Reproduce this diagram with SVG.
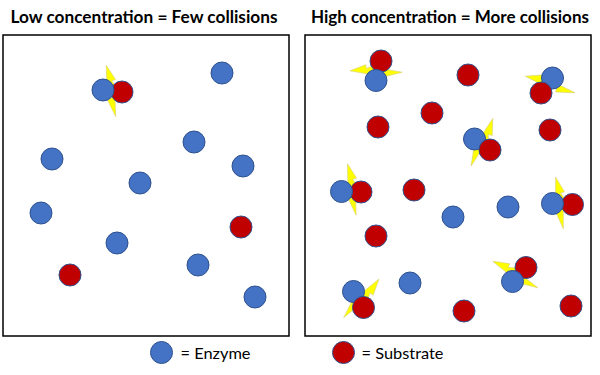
<svg xmlns="http://www.w3.org/2000/svg" xmlns:xlink="http://www.w3.org/1999/xlink" width="600" height="375" viewBox="0 0 600 375">
<style>
.enz{fill:#4472C4;stroke:#2F528F;stroke-width:1}
.sub{fill:#C00000;stroke:#2F528F;stroke-width:1}
.box{fill:#fff;stroke:#000;stroke-width:1.5}
.title{font-family:Lato,"Liberation Sans",sans-serif;font-weight:bold;font-size:16.5px;fill:#000}
.leg{font-family:Lato,"Liberation Sans",sans-serif;font-size:16px;fill:#000}
.bolt{fill:#FFFF00;stroke:#D8D070;stroke-width:0.6}
</style>
<defs>
<path id="bolt" class="bolt" d="M-2,-26 L6,-11 L2,-10 L9,1 L4,2 L3,26 L-4,8 L1,7 L-9,-6 L-3,-7 Z"/>
</defs>
<rect width="600" height="375" fill="#fff"/>
<text class="title" x="144" y="23" text-anchor="middle" textLength="267" lengthAdjust="spacingAndGlyphs">Low concentration = Few collisions</text>
<text class="title" x="450" y="23" text-anchor="middle" textLength="278" lengthAdjust="spacingAndGlyphs">High concentration = More collisions</text>
<rect class="box" x="3" y="35" width="286" height="301"/>
<rect class="box" x="305" y="35" width="286" height="301"/>

<g id="left-panel">
<g id="L-collision">
<use xlink:href="#bolt" transform="translate(110.5,91) rotate(-5)"/>
<circle class="sub" cx="122" cy="92" r="11"/>
<circle class="enz" cx="103" cy="90" r="11"/>
</g>
<g id="L-e1"><circle class="enz" cx="222" cy="73" r="11"/></g>
<g id="L-e2"><circle class="enz" cx="194" cy="142" r="11"/></g>
<g id="L-e3"><circle class="enz" cx="52" cy="159" r="11"/></g>
<g id="L-e4"><circle class="enz" cx="243" cy="166" r="11"/></g>
<g id="L-e5"><circle class="enz" cx="140" cy="183" r="11"/></g>
<g id="L-e6"><circle class="enz" cx="41" cy="213" r="11"/></g>
<g id="L-e7"><circle class="enz" cx="117" cy="243" r="11"/></g>
<g id="L-e8"><circle class="enz" cx="198" cy="265" r="11"/></g>
<g id="L-e9"><circle class="enz" cx="255" cy="297" r="11"/></g>
<g id="L-s1"><circle class="sub" cx="241" cy="227" r="11"/></g>
<g id="L-s2"><circle class="sub" cx="70" cy="275" r="11"/></g>
</g>

<g id="right-panel">
<g id="R-c1">
<use xlink:href="#bolt" transform="translate(376,72) rotate(-83)"/>
<circle class="sub" cx="381" cy="61" r="11"/>
<circle class="enz" cx="376" cy="80.5" r="11"/>
</g>
<g id="R-c2">
<use xlink:href="#bolt" transform="translate(550,85) rotate(-66)"/>
<circle class="enz" cx="552.5" cy="78" r="11"/>
<circle class="sub" cx="541" cy="93" r="11"/>
</g>
<g id="R-c3">
<use xlink:href="#bolt" transform="translate(481.5,142) rotate(30)"/>
<circle class="enz" cx="474.5" cy="139" r="11"/>
<circle class="sub" cx="490" cy="150" r="11"/>
</g>
<g id="R-c4">
<use xlink:href="#bolt" transform="translate(351.3,189.5) rotate(-4)"/>
<circle class="sub" cx="361" cy="192" r="11"/>
<circle class="enz" cx="341.5" cy="191.5" r="11"/>
</g>
<g id="R-c5">
<use xlink:href="#bolt" transform="translate(559,203) rotate(-3)"/>
<circle class="sub" cx="572.5" cy="204.5" r="11"/>
<circle class="enz" cx="552.5" cy="203.5" r="11"/>
</g>
<g id="R-c6">
<use xlink:href="#bolt" transform="translate(361,298) rotate(48)"/>
<circle class="enz" cx="353.5" cy="291.5" r="11"/>
<circle class="sub" cx="363.5" cy="307.5" r="11"/>
</g>
<g id="R-c7">
<use xlink:href="#bolt" transform="translate(515,275) rotate(-54)"/>
<circle class="sub" cx="526" cy="267.5" r="11"/>
<circle class="enz" cx="512.5" cy="281.5" r="11"/>
</g>
<g id="R-s1"><circle class="sub" cx="468" cy="75" r="11"/></g>
<g id="R-s2"><circle class="sub" cx="432" cy="113" r="11"/></g>
<g id="R-s3"><circle class="sub" cx="378" cy="127" r="11"/></g>
<g id="R-s4"><circle class="sub" cx="550" cy="130" r="11"/></g>
<g id="R-s5"><circle class="sub" cx="414" cy="190" r="11"/></g>
<g id="R-s6"><circle class="sub" cx="376" cy="236" r="11"/></g>
<g id="R-s7"><circle class="sub" cx="464" cy="311" r="11"/></g>
<g id="R-s8"><circle class="sub" cx="571" cy="306" r="11"/></g>
<g id="R-e1"><circle class="enz" cx="453" cy="217" r="11"/></g>
<g id="R-e2"><circle class="enz" cx="508" cy="207" r="11"/></g>
<g id="R-e3"><circle class="enz" cx="410" cy="283" r="11"/></g>
</g>

<g id="legend">
<g id="leg-enzyme">
<circle class="enz" cx="161.5" cy="352.5" r="11"/>
<text class="leg" x="180.5" y="359" textLength="70" lengthAdjust="spacingAndGlyphs">= Enzyme</text>
</g>
<g id="leg-substrate">
<circle class="sub" cx="343.5" cy="352.5" r="11"/>
<text class="leg" x="361.5" y="359" textLength="82" lengthAdjust="spacingAndGlyphs">= Substrate</text>
</g>
</g>
</svg>
